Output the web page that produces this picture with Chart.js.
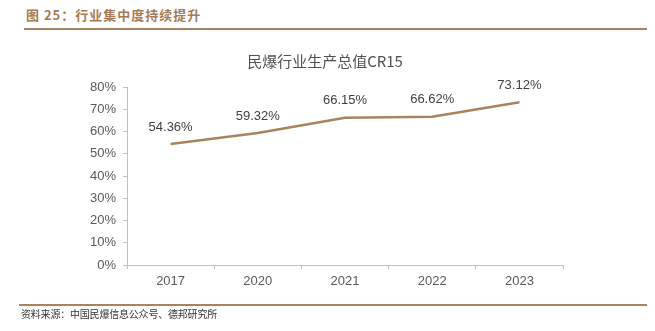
<!DOCTYPE html>
<html>
<head>
<meta charset="utf-8">
<script src="https://cdn.jsdelivr.net/npm/chart.js@4/dist/chart.umd.min.js"></script>
<style>
  body { margin: 0; width: 655px; height: 331px; background: #fff; position: relative; overflow: hidden; }
  #wrap { position: absolute; left: 0; top: 0; width: 655px; height: 331px; }
  .head { position: absolute; left: 26px; top: 5px; font: bold 13px "Noto Sans CJK SC", sans-serif; color: #A57B55; letter-spacing: 1px; }
  .rule { position: absolute; height: 2px; background: #A8835F; }
  .foot { position: absolute; left: 21px; top: 306px; font: 10px "Noto Sans CJK SC", sans-serif; color: #333; letter-spacing: -0.2px; }
</style>
</head>
<body>
<div class="head">图 25：行业集中度持续提升</div>
<div class="rule" style="left:24px; top:28px; width:623px;"></div>
<div id="wrap"><canvas id="myChart" width="655" height="331"></canvas></div>
<div class="rule" style="left:19px; top:304px; width:628px;"></div>
<div class="foot">资料来源：中国民爆信息公众号、德邦研究所</div>
<script>
// data
const years = ['2017', '2020', '2021', '2022', '2023'];
const cr15 = [54.36, 59.32, 66.15, 66.62, 73.12];
const yTicks = [0, 10, 20, 30, 40, 50, 60, 70, 80];

const lineColor = '#A8845C';
const axisColor = '#BFBFBF';
const textColor = '#595959';

// draws the value above each point
const valueLabels = {
  id: 'valueLabels',
  afterDatasetsDraw(chart) {
    const ctx = chart.ctx;
    const meta = chart.getDatasetMeta(0);
    ctx.save();
    ctx.font = '13px "Liberation Sans", Arial, sans-serif';
    ctx.fillStyle = '#404040';
    ctx.textAlign = 'center';
    ctx.textBaseline = 'middle';
    meta.data.forEach((pt, i) => {
      ctx.fillText(cr15[i].toFixed(2) + '%', pt.x, pt.y - 17);
    });
    ctx.restore();
  }
};

const ctx = document.getElementById('myChart').getContext('2d');
const myChart = new Chart(ctx, {
  type: 'line',
  data: {
    labels: years,
    datasets: [{
      label: '民爆行业生产总值CR15',
      data: cr15,
      borderColor: lineColor,
      borderWidth: 2.5,
      pointRadius: 0,
      tension: 0,
      fill: false
    }]
  },
  options: {
    responsive: false,
    animation: false,
    layout: { padding: { left: 87, right: 92, top: 52, bottom: 36 } },
    plugins: {
      legend: { display: false },
      tooltip: { enabled: false },
      title: {
        display: true,
        text: '民爆行业生产总值CR15',
        color: '#505050',
        font: { family: '"Noto Sans CJK SC", sans-serif', size: 15, weight: 'normal' },
        padding: { top: 0, bottom: 17 }
      }
    },
    scales: {
      x: {
        offset: true,
        grid: { offset: true, drawOnChartArea: false, drawTicks: true, tickLength: 4, color: axisColor },
        border: { color: axisColor, width: 1 },
        ticks: { color: textColor, font: { family: '"Liberation Sans", Arial, sans-serif', size: 13 }, padding: 5 },
        afterFit(s) { s.height = 30; }
      },
      y: {
        min: 0,
        max: 80,
        afterBuildTicks(s) { s.ticks = yTicks.map(v => ({ value: v })); },
        grid: { drawOnChartArea: false, drawTicks: true, tickLength: 4, color: axisColor },
        border: { color: axisColor, width: 1 },
        ticks: {
          color: textColor,
          font: { family: '"Liberation Sans", Arial, sans-serif', size: 13 },
          padding: 7,
          callback: v => v + '%'
        },
        afterFit(s) { s.width = 40; }
      }
    }
  },
  plugins: [valueLabels]
});
</script>
</body>
</html>
